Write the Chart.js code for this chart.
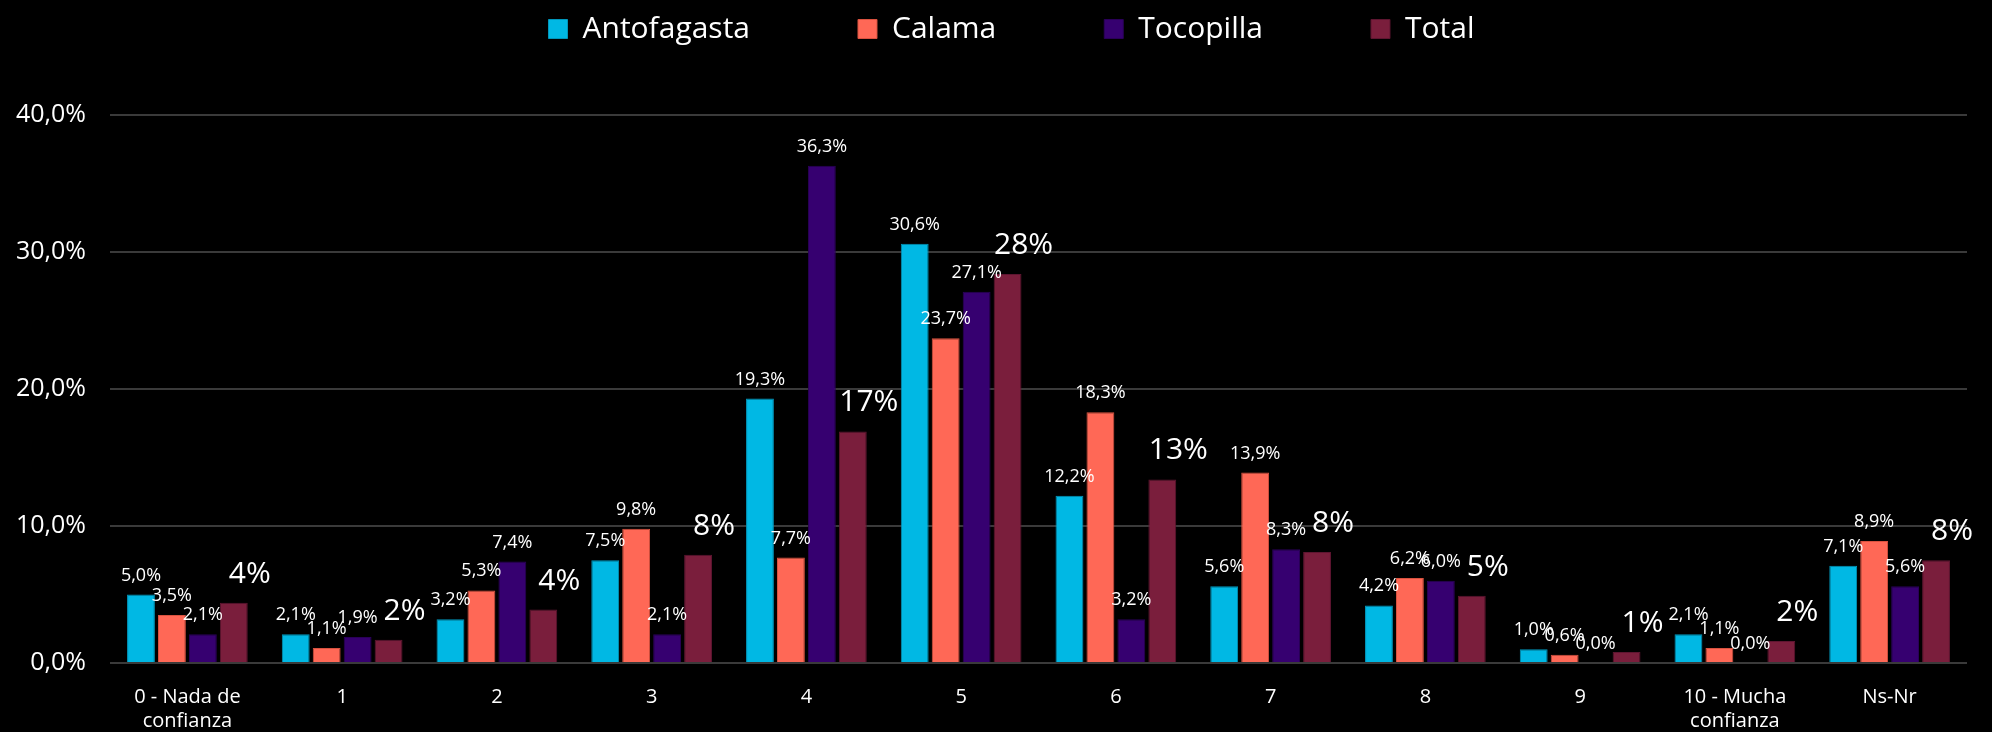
<!DOCTYPE html>
<html lang="es">
<head>
    <meta charset="UTF-8">
    <title>Confianza por comuna</title>
    <script src="https://cdn.jsdelivr.net/npm/chart.js"></script>
    <style>
        html, body { margin: 0; padding: 0; background: #000; }
        #wrap { width: 1992px; height: 732px; }
    </style>
</head>
<body>
    <div id="wrap"><canvas id="chart" width="1992" height="732"></canvas></div>

    <script>
        // categorias del eje x
        const categories = [
            ['0 - Nada de', 'confianza'], '1', '2', '3', '4', '5', '6', '7', '8', '9',
            ['10 - Mucha', 'confianza'], 'Ns-Nr'
        ];

        // porcentajes por comuna
        const antofagasta = [5.0, 2.1, 3.2, 7.5, 19.3, 30.6, 12.2, 5.6, 4.2, 1.0, 2.1, 7.1];
        const calama      = [3.5, 1.1, 5.3, 9.8, 7.7, 23.7, 18.3, 13.9, 6.2, 0.6, 1.1, 8.9];
        const tocopilla   = [2.1, 1.9, 7.4, 2.1, 36.3, 27.1, 3.2, 8.3, 6.0, 0.0, 0.0, 5.6];
        const total       = [4.4, 1.7, 3.9, 7.9, 16.9, 28.4, 13.4, 8.1, 4.9, 0.8, 1.6, 7.5];

        const yTicks = [0, 10, 20, 30, 40];

        const FONT = '"Open Sans", "Noto Sans", sans-serif';

        function pct1(v) {
            return v.toFixed(1).replace('.', ',') + '%';
        }

        // etiquetas de datos sobre cada barra
        const barLabels = {
            id: 'barLabels',
            afterDatasetsDraw(chart) {
                const ctx = chart.ctx;
                chart.data.datasets.forEach((ds, i) => {
                    const isTotal = ds.label === 'Total';
                    chart.getDatasetMeta(i).data.forEach((bar, j) => {
                        const v = ds.data[j];
                        ctx.save();
                        ctx.fillStyle = '#ffffff';
                        ctx.textAlign = 'center';
                        ctx.textBaseline = 'alphabetic';
                        if (isTotal) {
                            ctx.font = '30px ' + FONT;
                            ctx.fillText(Math.round(v) + '%', bar.x + 16, bar.y - 20);
                        } else {
                            ctx.font = '18px ' + FONT;
                            ctx.fillText(pct1(v), bar.x, bar.y - 14);
                        }
                        ctx.restore();
                    });
                });
            }
        };

        // mas espacio bajo la leyenda, y leyenda un poco a la derecha
        const legendSpace = {
            id: 'legendSpace',
            beforeInit(chart) {
                const fit = chart.legend.fit;
                chart.legend.fit = function () {
                    fit.bind(chart.legend)();
                    this.height += 61;
                };
            },
            afterLayout(chart) {
                chart.legend.left += 32;
                chart.legend.right += 32;
            }
        };

        const colors = ['#00B8E4', '#FF6856', '#360070', '#7A1E3C'];
        const borders = ['#0096bb', '#d9523f', '#2a0058', '#5e1530'];
        const series = [
            ['Antofagasta', antofagasta],
            ['Calama', calama],
            ['Tocopilla', tocopilla],
            ['Total', total]
        ];

        new Chart(document.getElementById('chart').getContext('2d'), {
            type: 'bar',
            data: {
                labels: categories,
                datasets: series.map((s, i) => ({
                    label: s[0],
                    data: s[1],
                    backgroundColor: colors[i],
                    borderColor: borders[i],
                    borderWidth: 1,
                    categoryPercentage: 0.8,
                    barPercentage: 0.9
                }))
            },
            options: {
                responsive: false,
                animation: false,
                layout: { padding: { top: -94, left: -8, right: 25, bottom: -15 } },
                plugins: {
                    legend: {
                        position: 'top',
                        labels: {
                            color: '#ffffff',
                            boxWidth: 19,
                            boxHeight: 19,
                            padding: 108,
                            font: { family: FONT, size: 30 }
                        }
                    },
                    tooltip: { enabled: false }
                },
                scales: {
                    x: {
                        grid: { display: false },
                        border: { display: false },
                        ticks: {
                            color: '#ffffff',
                            padding: 14,
                            maxRotation: 0,
                            font: { family: FONT, size: 20 }
                        }
                    },
                    y: {
                        min: 0,
                        max: 40,
                        afterBuildTicks(axis) {
                            axis.ticks = yTicks.map(v => ({ value: v }));
                        },
                        grid: { color: '#3a3a3a', lineWidth: 2, drawTicks: false },
                        border: { display: false },
                        ticks: {
                            color: '#ffffff',
                            padding: 24,
                            font: { family: FONT, size: 25 },
                            callback: v => pct1(v)
                        }
                    }
                }
            },
            plugins: [barLabels, legendSpace]
        });
    </script>
</body>
</html>
